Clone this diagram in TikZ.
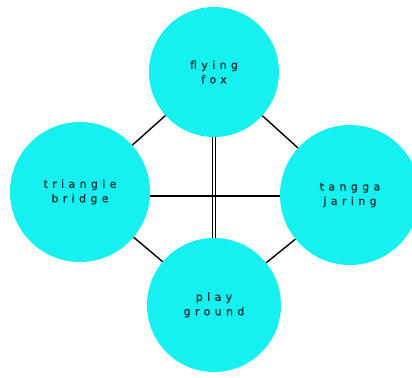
\documentclass[tikz,border=0pt]{standalone}
\usepackage{fontspec}
\setmainfont{DejaVu Sans}
\newfontfamily\lblfont[LetterSpace=40,FakeBold=1.2]{DejaVu Sans}
\definecolor{ballcyan}{RGB}{22,240,240}
\definecolor{lbltext}{RGB}{15,55,58}
\begin{document}
\begin{tikzpicture}[x=1bp,y=-1bp,
  ball/.style={circle,fill=ballcyan,draw=none,minimum size=#1,inner sep=0pt,
    align=center,font=\lblfont\fontsize{11}{14.5}\selectfont,text=lbltext},
  link/.style={draw=black,line width=1.4bp}]
\useasboundingbox (0,0) rectangle (412,378);
\node[ball=130bp] (fly) at (214,72) {flying\\fox};
\node[ball=140bp] (tri) at (80,192) {triangle\\bridge};
\node[ball=140bp] (tan) at (350,195) {tangga\\jaring};
\node[ball=134bp] (play) at (214,305) {play\\ground};
\draw[link] (tri) -- (fly);
\draw[link] (fly) -- (tan);
\draw[link] (tri) -- (play);
\draw[link] (play) -- (tan);
\draw[link,double=white,double distance=2.4bp,line width=1.1bp] (fly.south) -- (play.north);
\draw[link] (tri.east |- 0,196) -- (tan.west |- 0,196);
\end{tikzpicture}
\end{document}
